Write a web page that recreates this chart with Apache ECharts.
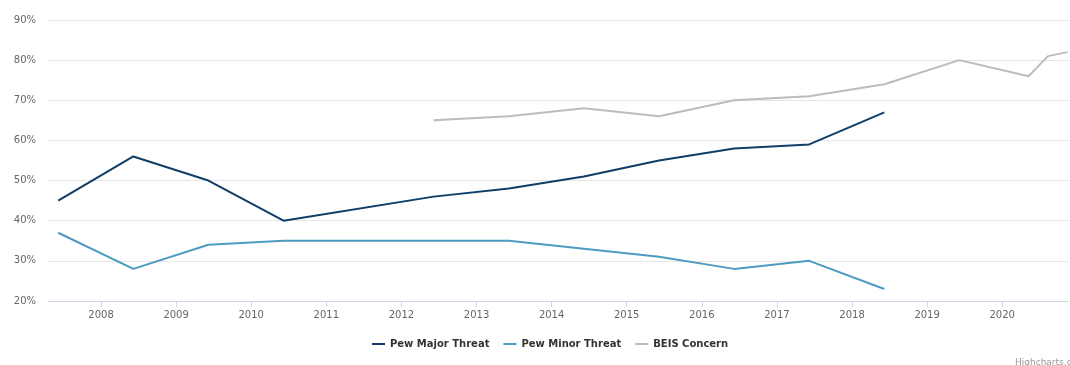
<!DOCTYPE html>
<html>
<head>
<meta charset="utf-8">
<script src="https://cdn.jsdelivr.net/npm/echarts@6/dist/echarts.min.js"></script>
<style>
  html, body { margin: 0; padding: 0; background: #ffffff; }
  #chart { width: 1070px; height: 365px; }
</style>
</head>
<body>
<div id="chart"></div>
<script>
// Survey waves as decimal years (fieldwork mid-year), share of respondents in %
const majorX = [2007.43, 2008.43, 2009.43, 2010.43, 2012.43, 2013.43, 2014.43, 2015.43, 2016.43, 2017.43, 2018.43];
const majorY = [45, 56, 50, 40, 46, 48, 51, 55, 58, 59, 67];

const minorX = [2007.43, 2008.43, 2009.43, 2010.43, 2013.43, 2014.43, 2015.43, 2016.43, 2017.43, 2018.43];
const minorY = [37, 28, 34, 35, 35, 33, 31, 28, 30, 23];

const beisX = [2012.43, 2013.43, 2014.43, 2015.43, 2016.43, 2017.43, 2018.43, 2019.43, 2020.35, 2020.61, 2020.87];
const beisY = [65, 66, 68, 66, 70, 71, 74, 80, 76, 81, 82];

const yearTicks = [2008, 2009, 2010, 2011, 2012, 2013, 2014, 2015, 2016, 2017, 2018, 2019, 2020];
const seriesNames = ['Pew Major Threat', 'Pew Minor Threat', 'BEIS Concern'];
const seriesColors = ['#0f3e68', '#4d9bc1', '#bcbcbc'];

const pairs = (xs, ys) => xs.map((x, i) => [x, ys[i]]);

const font = '"DejaVu Sans", "Lucida Grande", Arial, sans-serif';
const chart = echarts.init(document.getElementById('chart'), null, { renderer: 'canvas' });

chart.setOption({
  animation: false,
  backgroundColor: '#ffffff',
  color: seriesColors,
  textStyle: { fontFamily: font },
  grid: { left: 48, right: 2, top: 20, bottom: 64, containLabel: false },
  legend: {
    bottom: 11,
    left: 367,
    icon: 'rect',
    itemWidth: 13,
    itemHeight: 2,
    itemGap: 14,
    textStyle: { fontFamily: font, fontSize: 10, fontWeight: 'bold', color: '#333333' },
    data: seriesNames
  },
  xAxis: {
    type: 'value',
    min: 2007.294,
    max: 2020.876,
    axisLine: { show: true, lineStyle: { color: '#ccd6eb', width: 1 } },
    axisTick: { show: true, customValues: yearTicks, length: 6, lineStyle: { color: '#ccd6eb' } },
    axisLabel: {
      customValues: yearTicks,
      color: '#666666',
      fontSize: 10,
      fontFamily: font,
      margin: 9,
      formatter: v => String(Math.round(v))
    },
    splitLine: { show: false }
  },
  yAxis: {
    type: 'value',
    min: 20,
    max: 90,
    interval: 10,
    axisLine: { show: false },
    axisTick: { show: false },
    axisLabel: { color: '#666666', fontSize: 10, fontFamily: font, margin: 12, formatter: '{value}%' },
    splitLine: { lineStyle: { color: '#e6e6e6', width: 1 } }
  },
  series: [
    { name: seriesNames[0], type: 'line', data: pairs(majorX, majorY), symbol: 'none', lineStyle: { width: 2 } },
    { name: seriesNames[1], type: 'line', data: pairs(minorX, minorY), symbol: 'none', lineStyle: { width: 2 } },
    { name: seriesNames[2], type: 'line', data: pairs(beisX, beisY), symbol: 'none', lineStyle: { width: 2 } }
  ],
  graphic: [
    {
      type: 'text',
      left: 1015,
      top: 358,
      style: { text: 'Highcharts.com', fill: '#999999', font: '9px ' + font }
    }
  ]
});
</script>
</body>
</html>
